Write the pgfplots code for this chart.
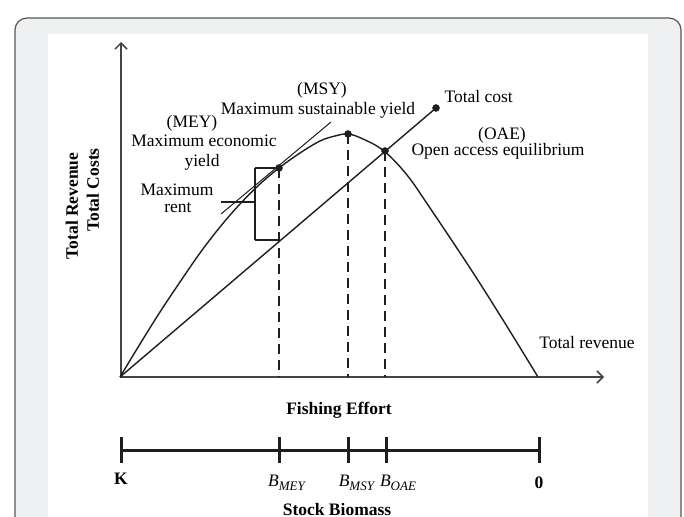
\documentclass[border=0pt]{standalone}
\usepackage{fontspec}
\setmainfont{Liberation Serif}
\usepackage{pgfplots}
\pgfplotsset{compat=1.18}
\usetikzlibrary{arrows.meta}
\definecolor{bggray}{HTML}{EFF0F2}
\definecolor{framec}{HTML}{555555}
\definecolor{ink}{HTML}{1E1E1E}
\definecolor{axc}{HTML}{444444}
\begin{document}
\begin{tikzpicture}[x=1pt,y=1pt,font=\fontsize{17.5}{21}\selectfont]
\fill[white] (0,0) rectangle (684,516);
\filldraw[fill=bggray, draw=framec, line width=1.2pt, rounded corners=12pt] (15,498) rectangle (681,-40);
\fill[white] (48,482) rectangle (648,-2);
\begin{axis}[at={(0,0)}, anchor=south west, scale only axis, width=684pt, height=516pt,
  xmin=0, xmax=684, ymin=0, ymax=516, y dir=reverse, hide axis, clip=false,
  every node/.append style={text=ink}]
% axes
\addplot[axc, line width=1.8pt, -{Straight Barb[length=6pt,width=12pt,line width=1.5pt]}] coordinates {(121,377) (121,42)};
\addplot[axc, line width=1.8pt, -{Straight Barb[length=6pt,width=12pt,line width=1.5pt]}] coordinates {(120,377) (604,377)};
% total revenue
\addplot[ink, line width=1.4pt, smooth, tension=0.6] coordinates {(120,377) (140,344) (160,312) (180,282) (200,253) (220,227) (240,204) (260,184) (279,168) (300,153) (320,141) (335,136) (348,134) (363,139) (384,151) (407,175) (430,208) (470,268) (503,320) (538,377)};
% total cost
\addplot[ink, line width=1.4pt] coordinates {(120,377) (436,108)};
% tangent
\addplot[ink, line width=1pt] coordinates {(221,214) (331,122)};
% dashed lines
\addplot[ink, line width=1.4pt, dash pattern=on 10pt off 6pt] coordinates {(279,168) (279,377)};
\addplot[ink, line width=1.4pt, dash pattern=on 10pt off 6pt] coordinates {(348,134) (348,377)};
\addplot[ink, line width=1.4pt, dash pattern=on 10pt off 6pt] coordinates {(385,151) (385,377)};
% bracket
\addplot[ink, line width=2.5pt] coordinates {(279,168) (255,168)};
\addplot[ink, line width=1.5pt] coordinates {(255,168) (255,240)};
\addplot[ink, line width=2.5pt] coordinates {(255,240) (279,240)};
\addplot[ink, line width=2.5pt] coordinates {(221,202) (255,202)};
% points
\addplot[only marks, mark=*, mark size=3.5pt, ink] coordinates {(279,168) (348,134) (385,151) (436,108)};
% biomass line
\addplot[ink, line width=3pt] coordinates {(121,450) (539,450)};
\addplot[ink, line width=3pt] coordinates {(121,437) (121,463)};
\addplot[ink, line width=3pt] coordinates {(279,437) (279,463)};
\addplot[ink, line width=3pt] coordinates {(348,437) (348,463)};
\addplot[ink, line width=3pt] coordinates {(386,437) (386,463)};
\addplot[ink, line width=3pt] coordinates {(539,437) (539,463)};
% labels
\node at (axis cs:322,90) {(MSY)};
\node at (axis cs:318,110) {Maximum sustainable yield};
\node at (axis cs:192,123) {(MEY)};
\node at (axis cs:204,141) {Maximum economic};
\node at (axis cs:202,162) {yield};
\node at (axis cs:177,190) {Maximum};
\node at (axis cs:178,208) {rent};
\node[anchor=west] at (axis cs:441,97) {Total cost};
\node at (axis cs:502,135) {(OAE)};
\node[anchor=west] at (axis cs:408,151) {Open access equilibrium};
\node at (axis cs:587,343) {Total revenue};
\node[font=\fontsize{17.5}{21}\selectfont\bfseries] at (axis cs:339,410) {Fishing Effort};
\node[rotate=90, font=\fontsize{17.5}{21}\selectfont\bfseries] at (axis cs:72,206) {Total Revenue};
\node[rotate=90, font=\fontsize{17.5}{21}\selectfont\bfseries] at (axis cs:93,190) {Total Costs};
\node[font=\fontsize{17.5}{21}\selectfont\bfseries] at (axis cs:121,479) {K};
\node at (axis cs:287,483) {\textit{B}\raisebox{-0.45ex}{\fontsize{13}{13}\selectfont\textit{MEY}}};
\node at (axis cs:357,483) {\textit{B}\raisebox{-0.45ex}{\fontsize{13}{13}\selectfont\textit{MSY}}};
\node at (axis cs:398,483) {\textit{B}\raisebox{-0.45ex}{\fontsize{13}{13}\selectfont\textit{OAE}}};
\node[font=\fontsize{17.5}{21}\selectfont\bfseries] at (axis cs:539,483) {0};
\node[font=\fontsize{17.5}{21}\selectfont\bfseries] at (axis cs:337,510) {Stock Biomass};
\end{axis}
\pgfresetboundingbox
\useasboundingbox (0,0) rectangle (684,516);
\end{tikzpicture}
\end{document}
